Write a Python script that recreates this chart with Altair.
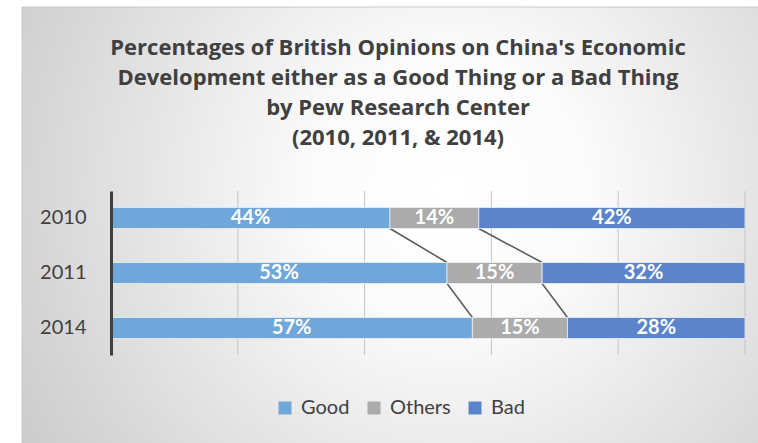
import altair as alt
import pandas as pd

years = ["2010", "2011", "2014"]
series = ["Good", "Others", "Bad"]
good = [44, 53, 57]
others = [14, 15, 15]
bad = [42, 32, 28]
colors = ["#6fa7db", "#ababab", "#5b84cb"]
grid_values = [0, 20, 40, 60, 80, 100]
title_lines = [
    "Percentages of British Opinions on China's Economic",
    "Development either as a Good Thing or a Bad Thing",
    "by Pew Research Center",
    "(2010, 2011, & 2014)",
]

# build the segment table
rows = []
for i, y in enumerate(years):
    start = 0
    for s, vals in zip(series, [good, others, bad]):
        v = vals[i]
        rows.append({"year": y, "series": s, "value": v, "start": start,
                     "end": start + v, "mid": start + v / 2, "label": f"{v}%"})
        start += v
seg = pd.DataFrame(rows)

# connector (series lines) table
conn = []
for i in range(len(years) - 1):
    conn.append({"frm": years[i], "to": years[i + 1],
                 "x": good[i], "x2": good[i + 1]})
    conn.append({"frm": years[i], "to": years[i + 1],
                 "x": good[i] + others[i], "x2": good[i + 1] + others[i + 1]})
conn = pd.DataFrame(conn)

grid = pd.DataFrame({"g": grid_values})

W, H = 634, 164
PL, PT, PR, PB = 111, 191, 13, 88

yscale = alt.Scale(domain=years, paddingInner=0.618, paddingOuter=0.3)
xscale = alt.Scale(domain=[0, 100], nice=False)

bg = alt.Chart(pd.DataFrame({"a": [0]})).mark_rect(
    fill=alt.RadialGradient(
        gradient="radial",
        stops=[alt.GradientStop(offset=0, color="#ffffff"),
               alt.GradientStop(offset=0.25, color="#fbfbfb"),
               alt.GradientStop(offset=1, color="#c4c4c4")],
        x1=0.58, y1=0.45, r1=0, x2=0.58, y2=0.45, r2=0.75),
    stroke="#c8c8c8", strokeWidth=1,
).encode(
    x=alt.value(22 - PL), x2=alt.value(758 - PL + 2),
    y=alt.value(7 - PT), y2=alt.value(443 - PT + 2),
)

title = alt.Chart(pd.DataFrame({"a": [0]})).mark_text(
    text=title_lines, font="Open Sans", fontSize=22, fontWeight="bold",
    color="#404040", lineHeight=30, align="center", baseline="alphabetic",
).encode(x=alt.value(398 - PL), y=alt.value(55 - PT))

gridlines = alt.Chart(grid).mark_rule(color="#c4c4c4", strokeWidth=1).encode(
    x=alt.X("g:Q", scale=xscale,
            axis=alt.Axis(title=None, labels=False, ticks=False, domain=False,
                          grid=False)),
    y=alt.value(0), y2=alt.value(H),
)

bars = alt.Chart(seg).mark_bar(stroke="#e8f0f8", strokeWidth=1, strokeOpacity=0.8).encode(
    y=alt.Y("year:N", scale=yscale,
            axis=alt.Axis(title=None, ticks=False, grid=False, labelFontSize=20,
                          labelFont="Lato", labelColor="#404040", labelPadding=25,
                          domainColor="#404040", domainWidth=3, zindex=2)),
    x=alt.X("start:Q", scale=xscale),
    x2="end:Q",
    color=alt.Color("series:N", scale=alt.Scale(domain=series, range=colors),
                    legend=alt.Legend(orient="none", legendX=164, legendY=207,
                                      direction="horizontal", title=None,
                                      symbolType="square", symbolSize=169,
                                      symbolStrokeWidth=0,
                                      labelFontSize=20, labelFont="Lato",
                                      labelColor="#404040", columnPadding=14,
                                      labelOffset=6)),
)

labels = alt.Chart(seg).mark_text(
    color="white", font="Lato", fontWeight="bold", fontSize=20, baseline="middle"
).encode(
    y=alt.Y("year:N", scale=yscale),
    x=alt.X("mid:Q", scale=xscale),
    text="label:N",
)

lines = alt.Chart(conn).mark_rule(color="#595959", strokeWidth=1.5).encode(
    x=alt.X("x:Q", scale=xscale),
    x2="x2:Q",
    y=alt.Y("frm:N", scale=yscale, bandPosition=1),
    y2=alt.Y2("to:N", bandPosition=0),
)

chart = alt.layer(bg, title, gridlines, lines, bars, labels).properties(
    width=W, height=H,
    padding={"left": PL, "top": PT, "right": PR, "bottom": PB},
    autosize=alt.AutoSizeParams(type="none"),
).configure(background="white").configure_view(stroke=None)

chart.save("out.html", embed_options={"renderer": "svg", "actions": False})
